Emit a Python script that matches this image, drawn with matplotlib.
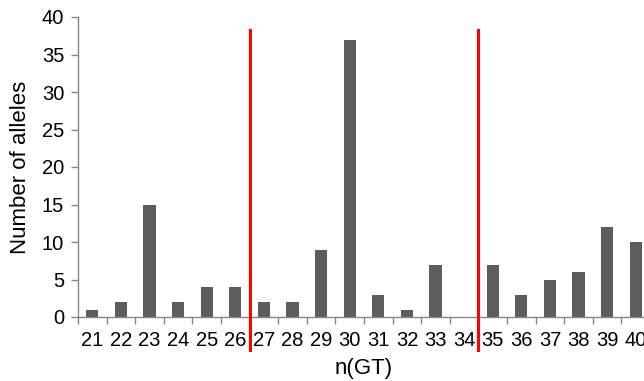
import matplotlib
matplotlib.use("Agg")
import matplotlib.pyplot as plt
import numpy as np

categories = [str(c) for c in range(21, 41)]
values = [1, 2, 15, 2, 4, 4, 2, 2, 9, 37, 3, 1, 7, 0, 7, 3, 5, 6, 12, 10]
red_lines_after = ["26", "34"]

plt.rcParams['font.family'] = ['Liberation Sans', 'DejaVu Sans']

fig = plt.figure(figsize=(6.44, 3.81), dpi=100)
ax = fig.add_axes([78/644, 64/381, 572/644, 300/381])

x = np.arange(len(categories))
ax.bar(x, values, width=0.42, color='#5d5d5d', zorder=2)
ax.set_xlim(-0.5, len(categories) - 0.5)
ax.set_ylim(0, 40)
ax.set_yticks(range(0, 41, 5))
ax.set_xticks(x)
ax.set_xticklabels(categories)
ax.set_xticks(np.arange(-0.5, len(categories), 1.0), minor=True)
ax.tick_params(axis='x', which='major', length=0, labelsize=14.5, pad=10)
ax.tick_params(axis='x', which='minor', length=5, color='#868686', width=1)
ax.tick_params(axis='y', length=5, color='#868686', width=1, labelsize=14.5, pad=5)

for s in ['top', 'right']:
    ax.spines[s].set_visible(False)
for s in ['left', 'bottom']:
    ax.spines[s].set_color('#868686')
    ax.spines[s].set_linewidth(1)

for c in red_lines_after:
    xi = categories.index(c) + 0.5
    ax.plot([xi, xi], [38.3, -4.4], color='#ff0000', lw=2.2, clip_on=False, zorder=3)

ax.set_ylabel('Number of alleles', fontsize=16, labelpad=8)
ax.set_xlabel('n(GT)', fontsize=16, labelpad=6)

fig.savefig('out.png', dpi=100)
